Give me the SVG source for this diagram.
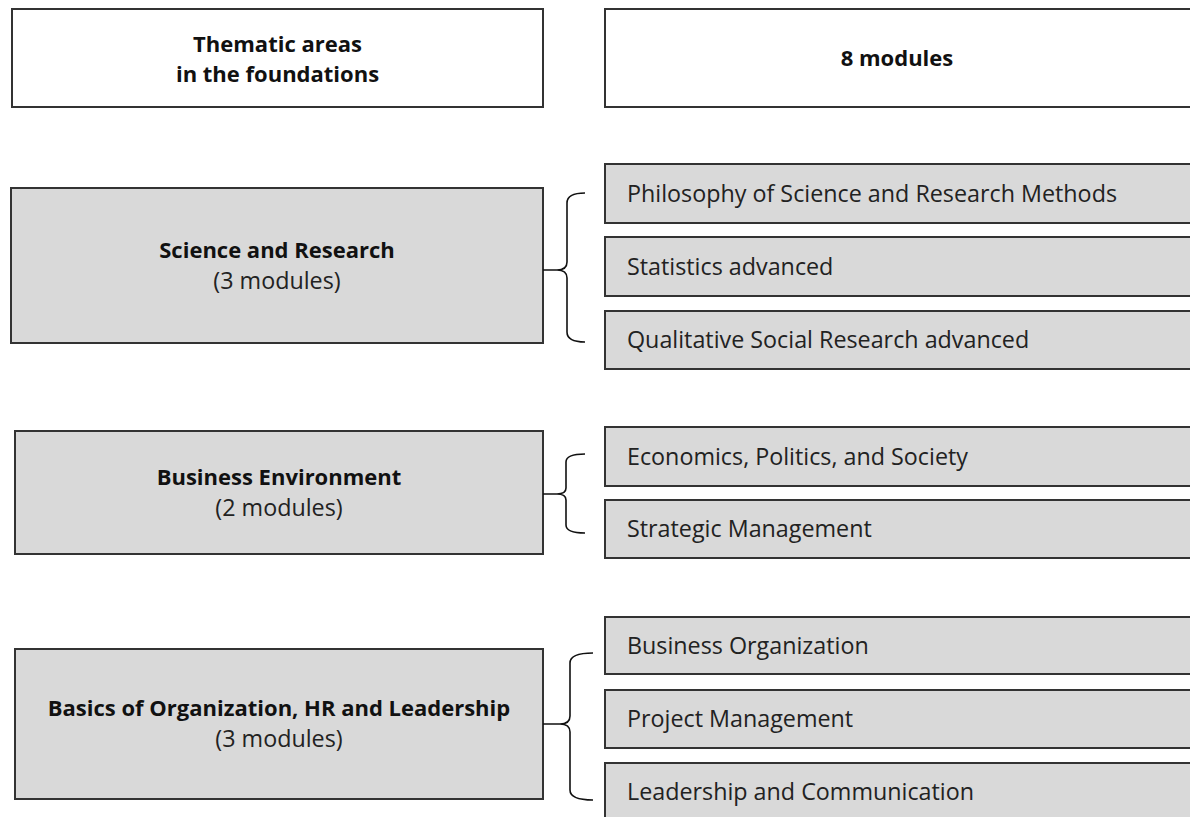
<svg xmlns="http://www.w3.org/2000/svg" width="1190" height="817" viewBox="0 0 1190 817">
<style>
.hdr{fill:#ffffff;stroke:#333333;stroke-width:2}
.box{fill:#d9d9d9;stroke:#333333;stroke-width:2}
.b{font-family:"Open Sans","Noto Sans","Liberation Sans",sans-serif;font-weight:bold;font-size:22px;fill:#111111;text-anchor:middle}
.r{font-family:"Open Sans","Noto Sans","Liberation Sans",sans-serif;font-size:23.3px;fill:#222222;text-anchor:middle}
.m{font-family:"Open Sans","Noto Sans","Liberation Sans",sans-serif;font-size:23.3px;fill:#222222}
.brace{fill:none;stroke:#111111;stroke-width:1.6}
</style>
<rect width="1190" height="817" fill="#ffffff"/>
<g id="header-left"><rect class="hdr" x="12" y="9" width="531" height="98"/><text class="b" x="277.5" y="51.5">Thematic areas</text><text class="b" x="277.5" y="82">in the foundations</text></g>
<g id="header-right"><rect class="hdr" x="605" y="9" width="590" height="98"/><text class="b" x="897" y="66">8 modules</text></g>
<g id="science"><rect class="box" x="11" y="188" width="532" height="155"/><text class="b" x="277" y="257.5">Science and Research</text><text class="r" x="277" y="288.5">(3 modules)</text></g>
<g id="business"><rect class="box" x="15" y="431" width="528" height="123"/><text class="b" x="279" y="484.5">Business Environment</text><text class="r" x="279" y="515.5">(2 modules)</text></g>
<g id="basics"><rect class="box" x="15" y="649" width="528" height="150"/><text class="b" x="279" y="716">Basics of Organization, HR and Leadership</text><text class="r" x="279" y="747">(3 modules)</text></g>
<g id="mod-philosophy"><rect class="box" x="605" y="164" width="590" height="59"/><text class="m" x="627" y="201.5">Philosophy of Science and Research Methods</text></g>
<g id="mod-statistics"><rect class="box" x="605" y="237" width="590" height="59"/><text class="m" x="627" y="274.5">Statistics advanced</text></g>
<g id="mod-qualitative"><rect class="box" x="605" y="311" width="590" height="58"/><text class="m" x="627" y="348">Qualitative Social Research advanced</text></g>
<g id="mod-economics"><rect class="box" x="605" y="427" width="590" height="59"/><text class="m" x="627" y="464.5">Economics, Politics, and Society</text></g>
<g id="mod-strategic"><rect class="box" x="605" y="500" width="590" height="58"/><text class="m" x="627" y="537">Strategic Management</text></g>
<g id="mod-organization"><rect class="box" x="605" y="617" width="590" height="57"/><text class="m" x="627" y="653.5">Business Organization</text></g>
<g id="mod-project"><rect class="box" x="605" y="690" width="590" height="58"/><text class="m" x="627" y="727">Project Management</text></g>
<g id="mod-leadership"><rect class="box" x="605" y="763" width="590" height="58"/><text class="m" x="627" y="800">Leadership and Communication</text></g>
<g id="connectors">
<path class="brace" d="M543,270 L557,270 M585,193 Q567,193 567,203 L567,262 Q567,270 557,270 Q567,270 567,278 L567,332 Q567,342 585,342"/>
<path class="brace" d="M543,494 L557,494 M585,454 Q566,454 566,462 L566,488 Q566,494 557,494 Q566,494 566,500 L566,525 Q566,533 585,533"/>
<path class="brace" d="M543,724 L560,724 M593,653 Q570,653 570,663 L570,716 Q570,724 560,724 Q570,724 570,732 L570,790 Q570,800 593,800"/>
</g>
</svg>
